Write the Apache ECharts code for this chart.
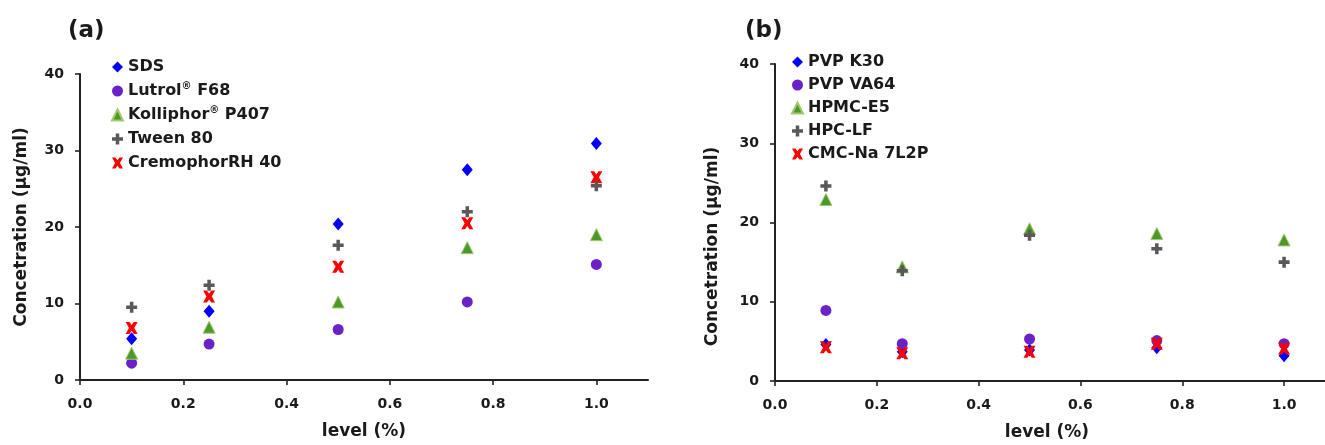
<!DOCTYPE html>
<html>
<head>
<meta charset="utf-8">
<script src="https://cdn.jsdelivr.net/npm/echarts@6/dist/echarts.min.js"></script>
<style>
html,body{margin:0;padding:0;background:#fff;}
#chart{width:1325px;height:445px;}
</style>
</head>
<body>
<div id="chart"></div>
<script>
// ---- data ----
const levels = [0.1, 0.25, 0.5, 0.75, 1.0];
const xTicks = [0, 0.2, 0.4, 0.6, 0.8, 1.0];
const yTicks = [0, 10, 20, 30, 40];

// panel (a) surfactants
const namesA = ['SDS', 'Lutrol® F68', 'Kolliphor® P407', 'Tween 80', 'CremophorRH 40'];
const sds       = [5.4, 9.0, 20.4, 27.5, 30.9];
const lutrol    = [2.2, 4.7, 6.6, 10.2, 15.1];
const kolliphor = [3.5, 6.9, 10.2, 17.3, 19.0];
const tween     = [9.5, 12.4, 17.6, 22.0, 25.4];
const cremophor = [6.8, 10.9, 14.8, 20.5, 26.5];

// panel (b) polymers
const namesB = ['PVP K30', 'PVP VA64', 'HPMC-E5', 'HPC-LF', 'CMC-Na 7L2P'];
const pvpK30  = [4.6, 3.7, 3.9, 4.2, 3.2];
const pvpVA64 = [8.9, 4.7, 5.3, 5.1, 4.7];
const hpmc    = [22.9, 14.4, 19.2, 18.6, 17.8];
const hpc     = [24.6, 13.9, 18.4, 16.7, 15.0];
const cmc     = [4.25, 3.5, 3.7, 4.7, 4.1];

// ---- styles ----
const FONT = 'DejaVu Sans';
const AXIS = '#222222';
const TXT = '#1a1a1a';
const PLUS = 'path://M3.4,0H6.6V3.4H10V6.6H6.6V10H3.4V6.6H0V3.4H3.4Z';
const XMARK = 'path://M0,0H3.2L5,2.6L6.8,0H10L7.2,5L10,10H6.8L5,7.4L3.2,10H0L2.8,5Z';
const styles = [
  {symbol: 'diamond', size: [11, 13], color: '#0000FF'},
  {symbol: 'circle', size: 11, color: '#6B21C8'},
  {symbol: 'triangle', size: 12, color: '#4A9A2A', border: '#A3C76D'},
  {symbol: PLUS, size: 11, color: '#595959'},
  {symbol: XMARK, size: 12, color: '#FF0000'}
];

function pairs(vals) { return levels.map((x, i) => [x, vals[i]]); }

function makeSeries(names, arrays, idx) {
  return names.map((n, i) => ({
    type: 'scatter', name: n, xAxisIndex: idx, yAxisIndex: idx,
    symbol: styles[i].symbol, symbolSize: styles[i].size,
    itemStyle: Object.assign({color: styles[i].color, opacity: 1},
      styles[i].border ? {borderColor: styles[i].border, borderWidth: 1} : {}),
    emphasis: {disabled: true},
    data: pairs(arrays[i])
  }));
}

function xAxisCfg(g, namePad) {
  return {
    type: 'value', gridIndex: g, min: 0, max: 1.1, interval: 0.2,
    axisLine: {show: true, lineStyle: {color: AXIS, width: 2}},
    axisTick: {show: true, length: 5, customValues: xTicks, lineStyle: {color: AXIS, width: 1.6}},
    axisLabel: {customValues: xTicks, formatter: v => v.toFixed(1), margin: 17,
      fontFamily: FONT, fontWeight: 'bold', fontSize: 14, color: TXT},
    splitLine: {show: false},
    name: 'level (%)', nameLocation: 'middle', nameGap: 43,
    nameTextStyle: {fontFamily: FONT, fontWeight: 'bold', fontSize: 17, color: TXT, padding: namePad}
  };
}
function yAxisCfg(g, gap, namePad) {
  return {
    type: 'value', gridIndex: g, min: 0, max: 40, interval: 10,
    axisLine: {show: true, lineStyle: {color: AXIS, width: 2}},
    axisTick: {show: true, length: 5, lineStyle: {color: AXIS, width: 1.6}},
    axisLabel: {margin: 16, fontFamily: FONT, fontWeight: 'bold', fontSize: 14, color: TXT},
    splitLine: {show: false},
    name: 'Concetration (µg/ml)', nameLocation: 'middle', nameGap: gap, nameRotate: 90,
    nameTextStyle: {fontFamily: FONT, fontWeight: 'bold', fontSize: 17, color: TXT, padding: namePad}
  };
}

function legendFmt(name) {
  if (name.indexOf('®') >= 0) {
    const parts = name.split('®');
    return '{n|' + parts[0] + '}{s|®}{n|' + parts[1] + '}';
  }
  return '{n|' + name + '}';
}
function legendCfg(names, left, top, gap) {
  return {
    data: names, orient: 'vertical', left: left, top: top,
    itemWidth: 11, itemHeight: 11, itemGap: gap, selectedMode: false,
    formatter: legendFmt,
    textStyle: {
      fontFamily: FONT, fontWeight: 'bold', fontSize: 16, color: TXT, lineHeight: 20,
      rich: {
        n: {fontFamily: FONT, fontWeight: 'bold', fontSize: 16, color: TXT, lineHeight: 20},
        s: {fontFamily: FONT, fontWeight: 'bold', fontSize: 10, color: TXT, lineHeight: 10, verticalAlign: 'top'}
      }
    }
  };
}

const chart = echarts.init(document.getElementById('chart'), null, {renderer: 'canvas'});
chart.setOption({
  animation: false,
  backgroundColor: '#ffffff',
  title: [
    {text: '(a)', left: 63, top: 15, textStyle: {fontFamily: FONT, fontWeight: 'bold', fontSize: 23, color: TXT}},
    {text: '(b)', left: 740, top: 15, textStyle: {fontFamily: FONT, fontWeight: 'bold', fontSize: 23, color: TXT}}
  ],
  grid: [
    {left: 80, top: 74, width: 568, height: 306, outerBoundsMode: 'none'},
    {left: 775, top: 64, width: 560, height: 317, outerBoundsMode: 'none'}
  ],
  xAxis: [xAxisCfg(0, [0, 0, 0, 0]), xAxisCfg(1, [0, 16, 0, 0])],
  yAxis: [yAxisCfg(0, 50, [0, 0, 0, 0]), yAxisCfg(1, 54, [0, 48, 0, 0])],
  legend: [legendCfg(namesA, 106, 52, 4), legendCfg(namesB, 786, 47, 3)],
  series: makeSeries(namesA, [sds, lutrol, kolliphor, tween, cremophor], 0)
    .concat(makeSeries(namesB, [pvpK30, pvpVA64, hpmc, hpc, cmc], 1))
});
</script>
</body>
</html>
